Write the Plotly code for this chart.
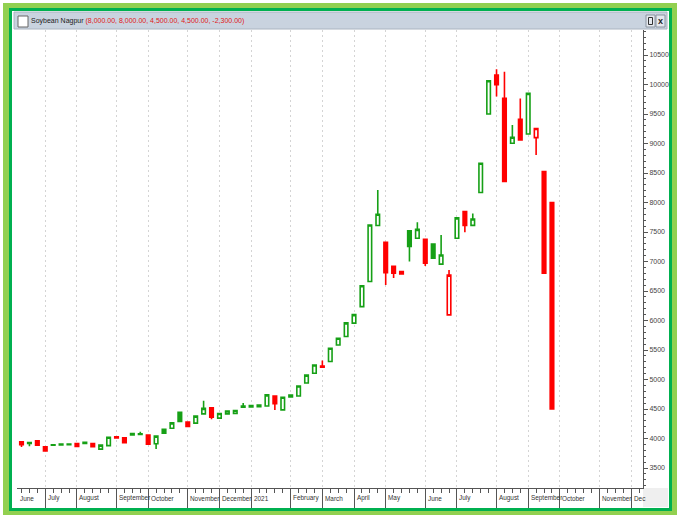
import plotly.graph_objects as go
import pandas as pd

# ---------------- data (weekly candles, week ending Saturday) ----------------
axis_weeks = pd.date_range("2020-06-13", "2021-12-11", freq="W-SAT")

opens = [3945, 3930, 3960, 3860, 3895, 3905, 3905, 3915, 3935, 3915,
         3820, 3880, 4030, 4012, 4085, 4080, 4060, 3910, 4155, 4175,
         4445, 4280, 4260, 4418, 4520, 4345, 4418, 4425, 4550, 4560,
         4565, 4550, 4720, 4485, 4735, 4720, 4940, 5105, 5228, 5305,
         5585, 5728, 5955, 6235, 6660, 7610, 7325, 6920, 6830, 7520,
         7395, 7375, 7295, 6955, 6095, 7395, 7845, 7612, 8170, 9500,
         10160, 9765, 9005, 9410, 9160, 9100, 8525, 8000]
highs = [3955, 3935, 3965, 3865, 3900, 3905, 3910, 3920, 3940, 3920,
         3890, 4025, 4035, 4015, 4090, 4115, 4065, 4045, 4160, 4270,
         4450, 4285, 4385, 4640, 4525, 4430, 4468, 4478, 4600, 4565,
         4570, 4745, 4725, 4705, 4740, 4895, 5080, 5250, 5320, 5535,
         5705, 5965, 6105, 6595, 7625, 8210, 7330, 6925, 6835, 7525,
         7665, 7390, 7300, 7450, 6855, 7745, 7850, 7815, 8670, 10070,
         10260, 10215, 9315, 9765, 9855, 9258, 8525, 8000]
lows = [3855, 3870, 3880, 3785, 3880, 3885, 3890, 3860, 3910, 3858,
        3815, 3875, 4005, 3925, 4058, 4065, 3900, 3820, 4085, 4170,
        4285, 4200, 4255, 4415, 4325, 4340, 4415, 4420, 4525, 4530,
        4535, 4545, 4485, 4480, 4700, 4715, 4935, 5100, 5205, 5300,
        5580, 5725, 5950, 6230, 6655, 7605, 6600, 6720, 6785, 7000,
        7390, 6925, 7050, 6950, 6090, 7390, 7495, 7608, 8165, 9495,
        9795, 8350, 9000, 9055, 9155, 8805, 6800, 4500]
closes = [3895, 3915, 3885, 3790, 3885, 3890, 3895, 3865, 3915, 3862,
          3888, 4020, 4010, 3930, 4062, 4070, 3905, 4040, 4090, 4265,
          4290, 4205, 4380, 4510, 4360, 4425, 4465, 4475, 4530, 4535,
          4540, 4740, 4590, 4700, 4705, 4890, 5075, 5245, 5210, 5530,
          5700, 5960, 6100, 6590, 7620, 7800, 6810, 6800, 6790, 7255,
          7545, 6970, 7055, 7110, 6770, 7740, 7610, 7720, 8665, 10065,
          9995, 8355, 9105, 9060, 9850, 9255, 6800, 4500]

month_labels = ["June", "July", "August", "September", "October", "November",
                "December", "2021", "February", "March", "April", "May", "June",
                "July", "August", "September", "October", "November", "Dec"]
y_ticks = list(range(3500, 11000, 500))
title_name = "Soybean Nagpur"
title_values = "(8,000.00, 8,000.00, 4,500.00, 4,500.00, -2,300.00)"

# ---------------- styling ----------------
GREEN = "#16a016"
RED = "#ff0000"
FONT = "Liberation Sans, Arial, sans-serif"
L, R, T, B = 17, 643, 30, 488
W, H = R - L, B - T


def px(x):
    return (x - L) / W


def py(y):
    return (B - y) / H


n = len(closes)
xs = list(range(n))
prev = [opens[0]] + closes[:-1]
rising = [c > p for c, p in zip(closes, prev)]

fig = go.Figure()
for flag, col in [(True, GREEN), (False, RED)]:
    idx = [i for i in xs if rising[i] == flag]
    fig.add_trace(go.Candlestick(
        x=idx,
        open=[opens[i] for i in idx], high=[highs[i] for i in idx],
        low=[lows[i] for i in idx], close=[closes[i] for i in idx],
        increasing=dict(line=dict(color=col, width=1.6), fillcolor="white"),
        decreasing=dict(line=dict(color=col, width=1.6), fillcolor=col),
        whiskerwidth=0, showlegend=False, hoverinfo="skip"))

# month boundaries: first week of each new month
bounds = [k for k in range(1, len(axis_weeks))
          if axis_weeks[k].month != axis_weeks[k - 1].month]

shapes = []


def rect(x0, y0, x1, y1, fill, line=None, lw=0, layer="below"):
    shapes.append(dict(type="rect", xref="paper", yref="paper",
                       x0=px(x0), x1=px(x1), y0=py(y0), y1=py(y1),
                       fillcolor=fill, layer=layer,
                       line=dict(color=line or fill, width=lw)))


# frame
rect(3, 3, 677, 515, "#92d050")
rect(9, 8, 672, 511, "#00b050")
rect(12, 11, 669, 508, "white")
# title bar
rect(14, 12, 667, 29, "#c9d3df", line="#aab4c0", lw=1)
rect(18, 16, 28, 27, "white", line="#666666", lw=1)
rect(646, 15, 655, 27, "#e4e8ee", line="#8a94a0", lw=1)
rect(656, 15, 665, 27, "#e4e8ee", line="#8a94a0", lw=1)
rect(648.5, 17.5, 652.5, 24.5, "rgba(0,0,0,0)", line="#333333", lw=1)
# bottom-right corner box
rect(643, 488, 668, 507, "#efefef")

annotations = [
    dict(xref="paper", yref="paper", x=px(29), y=py(20.5), xanchor="left",
         yanchor="middle", showarrow=False,
         text=f'{title_name} <span style="color:#e01818">{title_values}</span>',
         font=dict(family=FONT, size=7, color="#1a1a1a")),
    dict(xref="paper", yref="paper", x=px(660.5), y=py(21), xanchor="center",
         yanchor="middle", showarrow=False, text="<b>x</b>",
         font=dict(family=FONT, size=9, color="#222222")),
    dict(xref="paper", yref="paper", x=0, y=py(498), xanchor="left",
         yanchor="middle", showarrow=False, xshift=0.5, text=month_labels[0],
         font=dict(family=FONT, size=6.4, color="#333333")),
]
for k, lab in zip(bounds, month_labels[1:]):
    annotations.append(dict(xref="x", yref="paper", x=k, y=py(498),
                            xanchor="left", yanchor="middle", showarrow=False,
                            xshift=0.5, text=lab,
                            font=dict(family=FONT, size=6.4, color="#333333")))

fig.update_layout(
    width=677, height=515,
    margin=dict(l=L, r=677 - R, t=T, b=515 - B, autoexpand=False),
    paper_bgcolor="white", plot_bgcolor="white",
    boxgap=0.36, boxmode="overlay",
    shapes=shapes, annotations=annotations,
    xaxis=dict(type="linear", range=[-0.57, 78.5], rangeslider=dict(visible=False),
               automargin=False,
               tickmode="array", tickvals=bounds, showticklabels=False,
               ticks="outside", ticklen=19, tickcolor="#555555", tickwidth=1,
               showgrid=True, gridcolor="#d4d4d4", griddash="2px,3px", gridwidth=1,
               showline=True, linecolor="#555555", linewidth=1,
               zeroline=False,
               minor=dict(tickmode="linear", tick0=0, dtick=1, ticks="outside",
                          ticklen=4, tickcolor="#555555", showgrid=False)),
    yaxis=dict(side="right", range=[3161, 10924], tickmode="array",
               automargin=False,
               tickvals=y_ticks, ticktext=[str(v) for v in y_ticks],
               ticks="outside", ticklen=4, tickcolor="#555555",
               showgrid=False, zeroline=False,
               showline=True, linecolor="#555555", linewidth=1,
               tickfont=dict(family=FONT, size=7, color="#444444"),
               minor=dict(tickmode="linear", tick0=0, dtick=100, ticks="outside",
                          ticklen=2, tickcolor="#555555", showgrid=False)),
)

fig.write_html("out.html",
               config={"displayModeBar": False},
               post_script="document.body.style.margin='0';"
                           "document.body.style.overflow='hidden';")
